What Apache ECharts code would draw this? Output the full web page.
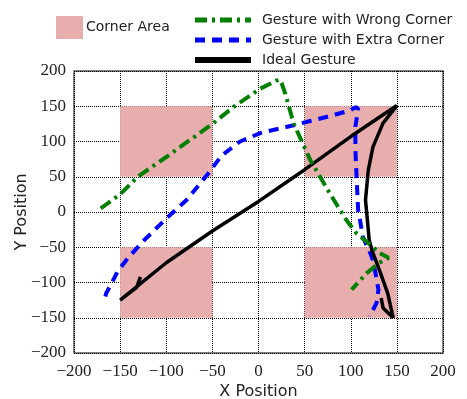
<!DOCTYPE html>
<html>
<head>
<meta charset="utf-8">
<script src="https://cdn.jsdelivr.net/npm/echarts@6/dist/echarts.min.js"></script>
<style>
  html, body { margin: 0; padding: 0; background: #fff; }
  #chart { width: 467px; height: 399px; }
</style>
</head>
<body>
<div id="chart"></div>
<script>
// corner rectangles: [xMin, yMin, xMax, yMax]
const cornerAreas = [
  [-150, 50, -50, 150],
  [50, 50, 150, 150],
  [-150, -150, -50, -50],
  [50, -150, 150, -50]
];

const wrongX = [-171, -150, -131, -100, -50, -27, 2, 22, 25, 29, 38, 56, 77, 95, 106, 117, 131, 141, 131, 117, 101];
const wrongY = [5, 25, 50, 78, 125, 149, 175, 188, 183, 168, 126, 74, 27, -11, -30, -42, -58, -65, -72, -87, -110];

const extraX = [-166, -165, -160, -153, -142, -124, -99, -78, -56, -40, -20, 2, 38, 56, 80, 99, 106, 108, 105, 105, 106, 108, 110, 113, 121, 124, 127, 130, 128, 124, 120];
const extraY = [-120, -115, -103, -85, -66, -40, -8, 17, 52, 80, 100, 112, 123, 129, 137, 144, 149, 146, 121, 90, 59, 3, -11, -35, -58, -68, -88, -110, -129, -139, -148];

const idealX = [-128, -132, -150, -100, -50, 0, 50, 100, 150, 135, 124, 119, 116, 118, 120, 124, 131, 140, 146, 135, 133];
const idealY = [-92, -107, -125, -72, -27, 15, 60, 107, 151, 126, 92, 59, 17, -11, -40, -58, -82, -115, -150, -136, -122];

const tickMin = -200, tickMax = 200, tickStep = 50;

function pairs(xs, ys) {
  return xs.map((x, i) => [x, ys[i]]);
}

const chart = echarts.init(document.getElementById('chart'));

const tickLabel = {
  fontFamily: 'Liberation Serif',
  fontSize: 17,
  color: '#222',
  formatter: v => String(v).replace('-', '\u2212')
};

const axisBase = {
  type: 'value',
  min: tickMin,
  max: tickMax,
  interval: tickStep,
  nameLocation: 'middle',
  nameMoveOverlap: false,
  nameTextStyle: { fontFamily: 'DejaVu Sans', fontSize: 16, color: '#222' },
  axisLine: { show: false, onZero: false },
  axisTick: { show: false },
  splitLine: { show: true, lineStyle: { color: '#000', type: 'dotted', width: 1 } }
};

const legendText = { fontFamily: 'DejaVu Sans', fontSize: 14, color: '#222' };

chart.setOption({
  animation: false,
  backgroundColor: '#fff',
  grid: {
    left: 74, right: 24, top: 71, bottom: 46,
    outerBoundsMode: 'none',
    show: true, borderColor: '#555', borderWidth: 1.5, backgroundColor: 'transparent'
  },
  legend: [
    {
      data: ['Corner Area'],
      left: 56, top: 16, padding: 0,
      icon: 'rect',
      itemWidth: 27, itemHeight: 23,
      textStyle: Object.assign({}, legendText, { padding: [0, 0, 0, -2] })
    },
    {
      data: [
        { name: 'Gesture with Wrong Corner', lineStyle: { width: 5 } },
        { name: 'Gesture with Extra Corner', lineStyle: { width: 5 } },
        { name: 'Ideal Gesture', lineStyle: { width: 6 } }
      ],
      orient: 'vertical',
      left: 192, top: 13, padding: 0,
      itemWidth: 56, itemHeight: 14,
      itemGap: 6,
      itemStyle: { opacity: 0 },
      textStyle: Object.assign({}, legendText, { padding: [0, 0, 0, 6] })
    }
  ],
  xAxis: Object.assign({}, axisBase, {
    name: 'X Position', nameGap: 31,
    axisLabel: Object.assign({}, tickLabel, { margin: 10 })
  }),
  yAxis: Object.assign({}, axisBase, {
    name: 'Y Position', nameGap: 44,
    axisLabel: Object.assign({}, tickLabel, { margin: 8 })
  }),
  series: [
    {
      name: 'Corner Area',
      type: 'custom',
      itemStyle: { color: '#e8adad' },
      encode: { x: [0, 2], y: [1, 3] },
      data: cornerAreas,
      z: 1,
      renderItem: function (params, api) {
        const p1 = api.coord([api.value(0), api.value(3)]);
        const p2 = api.coord([api.value(2), api.value(1)]);
        return {
          type: 'rect',
          shape: { x: p1[0], y: p1[1], width: p2[0] - p1[0], height: p2[1] - p1[1] },
          style: { fill: '#e8adad' }
        };
      }
    },
    {
      name: 'Gesture with Extra Corner',
      type: 'line',
      symbol: 'none',
      data: pairs(extraX, extraY),
      color: '#0000ff',
      lineStyle: { color: '#0000ff', width: 4, type: [10, 7] },
      z: 3
    },
    {
      name: 'Ideal Gesture',
      type: 'line',
      symbol: 'none',
      data: pairs(idealX, idealY),
      color: '#000',
      lineStyle: { color: '#000', width: 3.5 },
      z: 4
    },
    {
      name: 'Gesture with Wrong Corner',
      type: 'line',
      symbol: 'none',
      data: pairs(wrongX, wrongY),
      color: '#008000',
      lineStyle: { color: '#008000', width: 4, type: [12, 5, 3, 5] },
      z: 5
    }
  ]
});
</script>
</body>
</html>
